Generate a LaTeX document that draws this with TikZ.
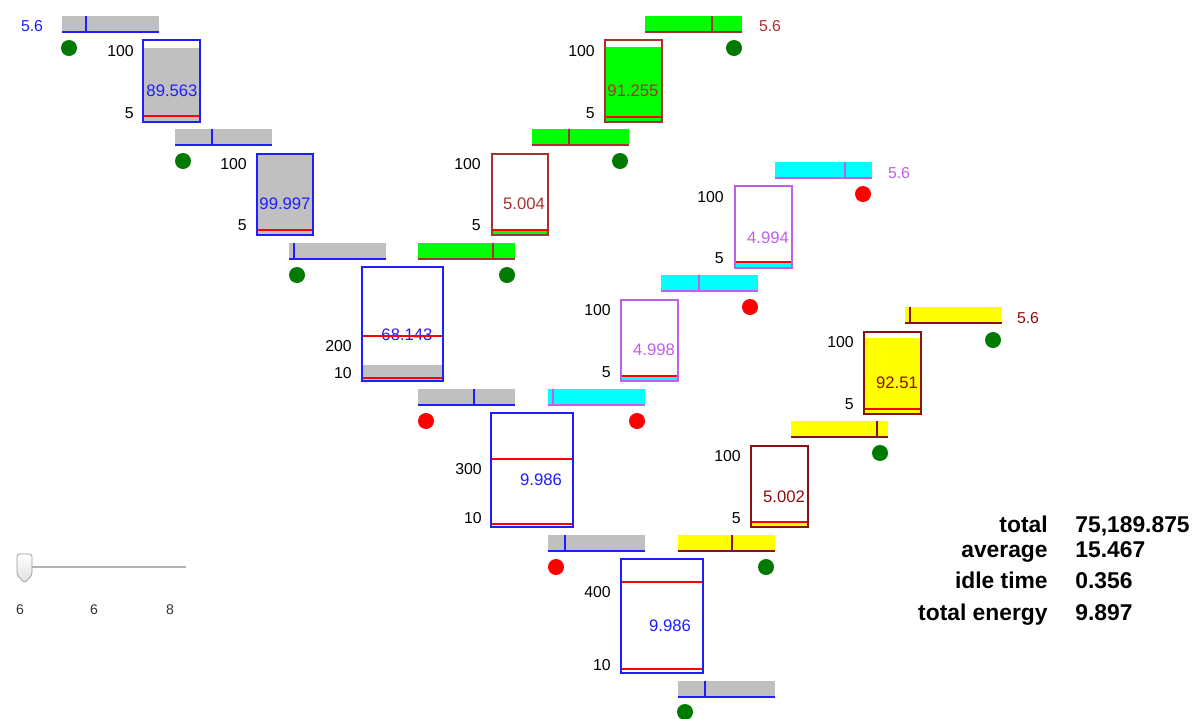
\documentclass[tikz,border=0pt]{standalone}
\usepackage{fontspec}
\setsansfont{Liberation Sans}
\definecolor{Gris}{HTML}{C0C0C0}
\definecolor{Azul}{HTML}{1E1EFF}
\definecolor{Verde}{HTML}{00FF00}
\definecolor{Marron}{HTML}{A83232}
\definecolor{Cian}{HTML}{00FFFF}
\definecolor{Morado}{HTML}{C060E8}
\definecolor{Amarillo}{HTML}{FFFF00}
\definecolor{Granate}{HTML}{8B1010}
\definecolor{Rojo}{HTML}{FF0000}
\definecolor{VerdeOsc}{HTML}{007A00}

\begin{document}
\begin{tikzpicture}[x=0.02cm, y=-0.02cm, font=\sffamily,
    etiq/.style={font=\sffamily\fontsize{9}{10}\selectfont, inner sep=0pt, anchor=east},
    valor/.style={font=\sffamily\fontsize{9.5}{11}\selectfont, inner sep=0pt},
    dato/.style={font=\sffamily\bfseries\fontsize{13}{15}\selectfont, inner sep=0pt},
    tanque/.style={line width=0.85pt},
    marca/.style={Rojo, line width=0.8pt}]

\useasboundingbox[fill=white] (0,0) rectangle (1193,718);

% barras
\foreach \x/\y/\c/\l/\t in {62/16/Gris/Azul/86, 175/129/Gris/Azul/212, 289/243/Gris/Azul/294,
    418/243/Verde/Marron/493, 532/129/Verde/Marron/569, 645/16/Verde/Marron/712,
    418/389/Gris/Azul/474, 548/389/Cian/Morado/553, 661/275/Cian/Morado/699,
    775/162/Cian/Morado/845, 548/535/Gris/Azul/565, 678/535/Amarillo/Granate/732,
    791/421/Amarillo/Granate/877, 905/307/Amarillo/Granate/910, 678/681/Gris/Azul/705}{
    \fill[\c] (\x,\y) rectangle ++(97,16);
    \draw[\l, line width=1.1pt] (\x,\y+16) -- ++(97,0);
    \draw[\l, line width=1.2pt] (\t,\y) -- (\t,\y+16);
}
\node[etiq, anchor=center, text=Azul] (r1) at (32,26) {5.6};
\node[etiq, anchor=center, text=Marron] (r2) at (770,26) {5.6};
\node[etiq, anchor=center, text=Morado] (r3) at (899,173) {5.6};
\node[etiq, anchor=center, text=Granate] (r4) at (1028,318) {5.6};

% puntos
\foreach \x/\y/\c in {69/48/VerdeOsc, 183/161/VerdeOsc, 297/275/VerdeOsc, 507/275/VerdeOsc,
    620/161/VerdeOsc, 734/48/VerdeOsc, 426/421/Rojo, 637/421/Rojo, 750/307/Rojo, 863/194/Rojo,
    556/567/Rojo, 766/567/VerdeOsc, 880/453/VerdeOsc, 993/340/VerdeOsc, 685/712/VerdeOsc}
    \fill[\c] (\x,\y) circle[radius=8];

% tanques
\foreach \xa/\ya/\xb/\yb/\bc/\fc/\nv/\val/\vx/\vy [count=\i] in {
    143/40/200/122/Azul/Gris/48/89.563/172/91, 257/154/313/235/Azul/Gris/154/99.997/285/204,
    362/267/443/381/Azul/Gris/365/68.143/407/335, 605/40/662/122/Marron/Verde/47/91.255/633/91,
    492/154/548/235/Marron/Verde/231/5.004/524/204, 735/186/792/268/Morado/Cian/263/4.994/768/238,
    621/300/678/381/Morado/Cian/377/4.998/654/350, 864/332/921/414/Granate/Amarillo/338/92.51/897/383,
    751/446/808/527/Granate/Amarillo/523/5.002/784/497, 491/413/573/527/Azul/white/527/9.986/541/480,
    621/559/703/673/Azul/white/673/9.986/670/626}{
    \fill[\fc] (\xa,\nv) rectangle (\xb,\yb);
    \draw[\bc, tanque] (\xa,\ya) rectangle (\xb,\yb);
    \node[valor, text=\bc] (val\i) at (\vx,\vy) {\val};
}
\foreach \xa/\xb/\y in {143/200/116, 257/313/230, 362/443/336, 362/443/378, 605/662/117,
    492/548/230, 735/792/262, 621/678/376, 864/921/409, 751/808/522, 491/573/459,
    491/573/524, 621/703/582, 621/703/669}
    \draw[marca] (\xa+1,\y) -- (\xb-1,\y);

% escalas
\foreach \x/\y/\t [count=\i] in {134/51/100, 134/113/5, 247/164/100, 247/225/5, 352/346/200,
    352/373/10, 595/51/100, 595/113/5, 481/164/100, 481/225/5, 724/197/100, 724/258/5,
    611/310/100, 611/372/5, 854/342/100, 854/404/5, 741/456/100, 741/518/5, 482/469/300,
    482/518/10, 611/592/400, 611/665/10}
    \node[etiq] (esc\i) at (\x,\y) {\t};

% deslizador
\draw[gray!60, line width=0.6pt] (24,567) -- (186,567);
\draw[gray!80, top color=white, bottom color=gray!25, rounded corners=1.5pt]
    (17,575) -- (17,554) -- (32,554) -- (32,575) -- (24.5,583) -- cycle;
\foreach \x/\t [count=\i] in {20/6, 94/6, 170/8}
    \node[font=\sffamily\fontsize{8}{9}\selectfont, text=black!80, inner sep=0pt] (d\i) at (\x,610) {\t};

% resumen
\node[dato, anchor=base east] (lt) at (1048,532) {total};
\node[dato, anchor=base west] (vt) at (1075,532) {75,189.875};
\node[dato, anchor=base east] (la) at (1048,557) {average};
\node[dato, anchor=base west] (va) at (1075,557) {15.467};
\node[dato, anchor=base east] (li) at (1048,588) {idle time};
\node[dato, anchor=base west] (vi) at (1075,588) {0.356};
\node[dato, anchor=base east] (le) at (1048,620) {total energy};
\node[dato, anchor=base west] (ve) at (1075,620) {9.897};

\end{tikzpicture}
\end{document}
